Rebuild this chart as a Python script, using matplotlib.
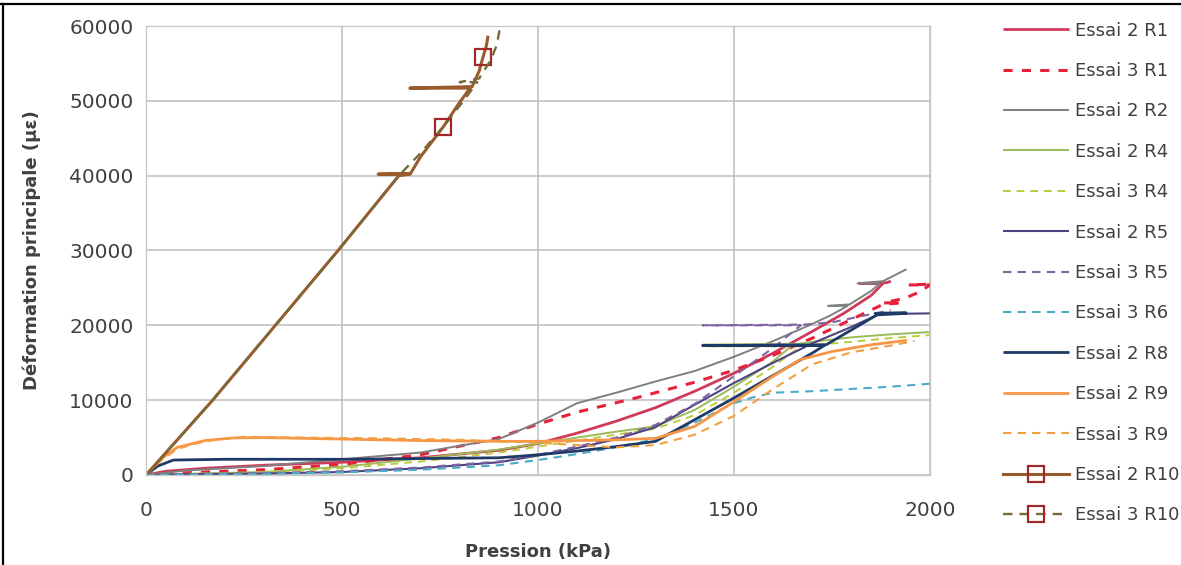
import matplotlib
matplotlib.use("Agg")
import matplotlib.pyplot as plt
from matplotlib.lines import Line2D

# ---- data: pressure (kPa) and principal strain (micro-strain) ----
P_e2r1 = [0, 50, 150, 300, 500, 700, 900, 1000, 1100, 1200, 1300, 1400, 1500, 1600, 1700, 1780, 1850, 1880, 1820, 1890, 1900]
E_e2r1 = [0, 500, 900, 1300, 1700, 2300, 3300, 4200, 5600, 7200, 9000, 11200, 13600, 16300, 19200, 21600, 24000, 25600, 25600, 25700, 25900]

P_e3r1 = [0, 100, 300, 500, 700, 900, 1000, 1100, 1250, 1400, 1500, 1600, 1700, 1800, 1880, 1925, 1880, 1935, 1975, 2000, 1945, 2000]
E_e3r1 = [0, 300, 700, 1400, 2700, 5000, 6800, 8400, 10300, 12400, 14000, 16000, 18300, 20800, 22800, 23000, 23000, 23600, 24500, 25400, 25400, 25500]

P_e2r2 = [0, 100, 300, 500, 700, 900, 1000, 1100, 1200, 1300, 1400, 1500, 1600, 1700, 1745, 1790, 1740, 1795, 1850, 1872, 1815, 1880, 1940]
E_e2r2 = [0, 600, 1200, 2100, 3000, 4800, 7000, 9600, 11000, 12500, 13900, 15800, 17900, 20200, 21300, 22600, 22600, 22800, 24600, 25600, 25600, 25900, 27500]

P_e2r4 = [0, 100, 300, 500, 700, 900, 1000, 1100, 1200, 1300, 1400, 1500, 1600, 1650, 1420, 1660, 1700, 1800, 1900, 2000]
E_e2r4 = [0, 150, 400, 1100, 2200, 3400, 4200, 5000, 5800, 6500, 8700, 11800, 15200, 17400, 17400, 17500, 17800, 18400, 18800, 19100]

P_e3r4 = [0, 100, 300, 500, 700, 900, 1000, 1100, 1200, 1300, 1400, 1500, 1600, 1670, 1430, 1680, 1800, 1900, 2000]
E_e3r4 = [0, 100, 300, 900, 1800, 3000, 3800, 4600, 5400, 6200, 8000, 11000, 14500, 17200, 17200, 17300, 17800, 18300, 18700]

P_e2r5 = [0, 100, 300, 500, 700, 900, 1000, 1100, 1200, 1300, 1400, 1500, 1600, 1700, 1800, 1870, 2000]
E_e2r5 = [0, 100, 200, 400, 900, 1700, 2600, 3600, 4800, 6400, 9400, 12300, 15000, 17600, 19800, 21500, 21600]

P_e3r5 = [0, 100, 300, 500, 700, 900, 1000, 1100, 1200, 1300, 1400, 1500, 1600, 1670, 1420, 1680, 1750, 1850, 1900]
E_e3r5 = [0, 100, 250, 500, 1000, 1800, 2700, 3800, 5000, 6700, 9500, 13200, 17000, 20000, 20000, 20100, 20400, 21500, 22000]

P_e3r6 = [0, 100, 300, 500, 700, 900, 1000, 1100, 1200, 1300, 1400, 1500, 1550, 1600, 1700, 1800, 1900, 2000]
E_e3r6 = [0, 50, 150, 350, 700, 1300, 2000, 2800, 3700, 4800, 7000, 9600, 10400, 11000, 11200, 11500, 11800, 12200]

P_e2r8 = [0, 30, 70, 200, 500, 700, 900, 1000, 1100, 1200, 1300, 1400, 1500, 1600, 1700, 1730, 1420, 1735, 1800, 1865, 1940, 1860, 1940]
E_e2r8 = [0, 1200, 2000, 2100, 2100, 2200, 2300, 2700, 3200, 3800, 4500, 7400, 10300, 13300, 16300, 17300, 17300, 17400, 19400, 21400, 21600, 21600, 21700]

P_e2r9 = [0, 40, 80, 150, 220, 300, 500, 700, 900, 1000, 1100, 1200, 1300, 1400, 1500, 1600, 1668, 1750, 1850, 1941]
E_e2r9 = [0, 2200, 3700, 4600, 4950, 5000, 4800, 4600, 4500, 4500, 4600, 4700, 4900, 6500, 9800, 13200, 15400, 16500, 17400, 18000]

P_e3r9 = [0, 40, 80, 150, 250, 400, 600, 800, 1000, 1100, 1200, 1300, 1400, 1500, 1600, 1700, 1800, 1900, 1960]
E_e3r9 = [0, 2000, 3500, 4500, 5100, 5000, 4900, 4700, 4300, 4000, 3700, 4000, 5400, 7900, 11500, 14800, 16400, 17300, 17900]

P_e2r10 = [0, 170, 330, 490, 645, 673, 592, 675, 700, 758, 800, 827, 673, 832, 850, 860, 868, 872]
E_e2r10 = [0, 10000, 20000, 30000, 40000, 40200, 40200, 40300, 42500, 46500, 49800, 51700, 51700, 51900, 54000, 55900, 57300, 58500]

P_e3r10 = [0, 170, 330, 490, 645, 700, 758, 810, 845, 800, 850, 880, 895, 903]
E_e3r10 = [0, 10000, 20000, 30000, 40000, 43000, 46500, 50000, 52500, 52500, 53000, 55500, 57500, 59800]

# marker positions (index into the series) for the R10 curves
MARK_E2R10 = [15]
MARK_E3R10 = [6]

X_TICKS = [0, 500, 1000, 1500, 2000]
Y_TICKS = [0, 10000, 20000, 30000, 40000, 50000, 60000]

W, H = 1181, 565
fig = plt.figure(figsize=(W / 100, H / 100), dpi=100)
ax = fig.add_axes([146 / W, 90 / H, 784 / W, 449 / H])

series = [
    (P_e2r1, E_e2r1, "Essai 2 R1", dict(color="#D03A5A", lw=2.0, ls="-")),
    (P_e3r1, E_e3r1, "Essai 3 R1", dict(color="#E8203A", lw=2.2, ls=(0, (3, 3)))),
    (P_e2r2, E_e2r2, "Essai 2 R2", dict(color="#7F7F7F", lw=1.4, ls="-")),
    (P_e2r4, E_e2r4, "Essai 2 R4", dict(color="#9BBB59", lw=1.4, ls="-")),
    (P_e3r4, E_e3r4, "Essai 3 R4", dict(color="#BACB3C", lw=1.4, ls=(0, (4, 3)))),
    (P_e2r5, E_e2r5, "Essai 2 R5", dict(color="#4E4380", lw=1.5, ls="-")),
    (P_e3r5, E_e3r5, "Essai 3 R5", dict(color="#8064A2", lw=1.5, ls=(0, (4, 3)))),
    (P_e3r6, E_e3r6, "Essai 3 R6", dict(color="#4BACC6", lw=1.5, ls=(0, (4, 3)))),
    (P_e2r8, E_e2r8, "Essai 2 R8", dict(color="#1F3A66", lw=2.0, ls="-")),
    (P_e2r9, E_e2r9, "Essai 2 R9", dict(color="#F79646", lw=2.0, ls="-")),
    (P_e3r9, E_e3r9, "Essai 3 R9", dict(color="#F0A040", lw=1.5, ls=(0, (4, 3)))),
]

for P, E, name, st in series:
    ax.plot(P, E, label=name, solid_capstyle="butt", **st)

ax.plot(P_e2r10, E_e2r10, label="Essai 2 R10", color="#9A5B2C", lw=2.2, ls="-",
        marker="s", markevery=MARK_E2R10, markersize=12, markerfacecolor="none",
        markeredgecolor="#A02828", markeredgewidth=1.6)
ax.plot(P_e3r10, E_e3r10, label="Essai 3 R10", color="#7A6A3A", lw=1.7, ls=(0, (4, 3)),
        marker="s", markevery=MARK_E3R10, markersize=12, markerfacecolor="none",
        markeredgecolor="#A02828", markeredgewidth=1.6)

ax.set_xlim(0, 2000)
ax.set_ylim(0, 60000)
ax.set_xticks(X_TICKS)
ax.set_yticks(Y_TICKS)
ax.grid(True, color="#BDBDBD", lw=1.1)
ax.set_axisbelow(True)
for s in ax.spines.values():
    s.set_color("#C8C8C8")
    s.set_linewidth(1.0)
ax.tick_params(length=0, labelsize=14.5, labelcolor="#404040")
ax.tick_params(axis="x", pad=19)
ax.tick_params(axis="y", pad=9)

ax.set_xlabel("Pression (kPa)", fontsize=13, fontweight="bold", color="#404040", labelpad=16)
ax.set_ylabel("Déformation principale (µε)", fontsize=13, fontweight="bold", color="#404040", labelpad=20)

leg = fig.legend(loc="upper left", bbox_to_anchor=(999 / W, 1 - 18 / H),
                 frameon=False, fontsize=13, handlelength=3.7, handletextpad=0.3,
                 labelspacing=1.24, borderpad=0.2, borderaxespad=0, numpoints=1)
for t in leg.get_texts():
    t.set_color("#404040")

# outer frame on the top and left edges
fig.add_artist(Line2D([0, 1], [1 - 3.5 / H, 1 - 3.5 / H], transform=fig.transFigure, color="black", lw=1.6))
fig.add_artist(Line2D([3 / W, 3 / W], [0, 1 - 3.5 / H], transform=fig.transFigure, color="black", lw=1.6))

fig.savefig("out.png", dpi=100, facecolor="white")
